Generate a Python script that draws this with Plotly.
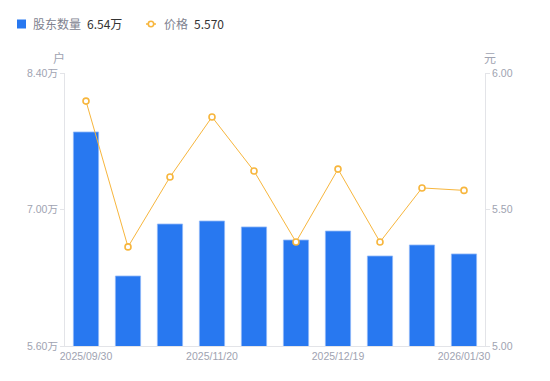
import plotly.graph_objects as go

dates = ["2025/09/30", "2025/10/20", "2025/10/31", "2025/11/20", "2025/11/30",
         "2025/12/10", "2025/12/19", "2025/12/31", "2026/01/20", "2026/01/30"]
holders = [7.795, 6.318, 6.851, 6.882, 6.821, 6.687, 6.779, 6.523, 6.636, 6.544]  # 万户
price = [5.897, 5.363, 5.619, 5.839, 5.641, 5.381, 5.648, 5.381, 5.579, 5.570]

shown_ticks = ["2025/09/30", "2025/11/20", "2025/12/19", "2026/01/30"]
left_ticks = [5.6, 7.0, 8.4]
left_labels = ["5.60万", "7.00万", "8.40万"]
right_ticks = [5.0, 5.5, 6.0]
right_labels = ["5.00", "5.50", "6.00"]

BLUE = "#2878f0"
ORANGE = "#f7b63d"
GRAY = "#a0a3b1"
AXIS = "#e3e4e8"
FONT = "Noto Sans CJK SC"
TICKFONT = dict(family="Liberation Sans, Noto Sans CJK SC", size=10.5, color=GRAY)

W, H = 550, 381
L, R, T, B = 65, 65, 73, 35
PW, PH = W - L - R, H - T - B


def px(xp):
    return (xp - L) / PW


def py(yp):
    return (H - B - yp) / PH


fig = go.Figure()
fig.add_trace(go.Bar(
    x=dates, y=holders, yaxis="y", name="股东数量",
    marker=dict(color=BLUE, line=dict(color="#8fb8f8", width=0.8)),
    width=0.6,
))
fig.add_trace(go.Scatter(
    x=dates, y=price, yaxis="y2", mode="lines+markers", name="价格",
    line=dict(color=ORANGE, width=1),
    marker=dict(size=6, color="white", line=dict(color=ORANGE, width=1.6)),
))

legend_y = 24
shapes = [
    dict(type="rect", xref="paper", yref="paper", x0=px(17), x1=px(26),
         y0=py(28.5), y1=py(19.5), fillcolor=BLUE, line=dict(width=0)),
    dict(type="line", xref="paper", yref="paper", x0=px(146), x1=px(156),
         y0=py(legend_y), y1=py(legend_y), line=dict(color=ORANGE, width=1.5)),
    dict(type="circle", xref="paper", yref="paper", x0=px(148.3), x1=px(153.7),
         y0=py(legend_y + 2.7), y1=py(legend_y - 2.7), fillcolor="white",
         line=dict(color=ORANGE, width=1.6)),
]

annotations = [
    dict(text="股东数量", x=px(31), y=py(legend_y), xanchor="left", yanchor="middle",
         font=dict(family=FONT, size=12, color="#80828f")),
    dict(text="%.2f万" % holders[-1], x=px(85), y=py(legend_y), xanchor="left",
         yanchor="middle", font=dict(family=FONT, size=12, color="#333333")),
    dict(text="价格", x=px(162), y=py(legend_y), xanchor="left", yanchor="middle",
         font=dict(family=FONT, size=12, color="#80828f")),
    dict(text="%.3f" % price[-1], x=px(192), y=py(legend_y), xanchor="left",
         yanchor="middle", font=dict(family=FONT, size=12, color="#333333")),
    dict(text="户", x=px(59), y=py(57), xanchor="center", yanchor="middle",
         font=dict(family=FONT, size=12, color=GRAY)),
    dict(text="元", x=px(490), y=py(57), xanchor="center", yanchor="middle",
         font=dict(family=FONT, size=12, color=GRAY)),
]
for a in annotations:
    a.update(xref="paper", yref="paper", showarrow=False)

fig.update_layout(
    width=W, height=H,
    margin=dict(l=L, r=R, t=T, b=B, autoexpand=False),
    paper_bgcolor="white", plot_bgcolor="white",
    font=dict(family=FONT, color=GRAY, size=11),
    showlegend=False,
    xaxis=dict(type="category", tickmode="array", tickvals=shown_ticks,
               ticktext=shown_ticks, showgrid=False, showline=True,
               linecolor=AXIS, linewidth=1, ticks="", tickfont=TICKFONT,
               range=[-0.5, 9.5], automargin=False),
    yaxis=dict(range=[5.6, 8.4], tickvals=left_ticks, ticktext=left_labels,
               showgrid=False, showline=True, linecolor=AXIS, linewidth=1,
               ticks="outside", ticklen=4, tickcolor=AXIS, zeroline=False,
               tickfont=TICKFONT, automargin=False),
    yaxis2=dict(range=[5.0, 6.0], tickvals=right_ticks, ticktext=right_labels,
                overlaying="y", side="right", showgrid=False, showline=True,
                linecolor=AXIS, linewidth=1, ticks="outside", ticklen=4,
                tickcolor=AXIS, zeroline=False, tickfont=TICKFONT, automargin=False),
    shapes=shapes,
    annotations=annotations,
)

fig.write_html("out.html", config={"displayModeBar": False},
               post_script="document.body.style.margin='0px';document.body.style.overflow='hidden';")
